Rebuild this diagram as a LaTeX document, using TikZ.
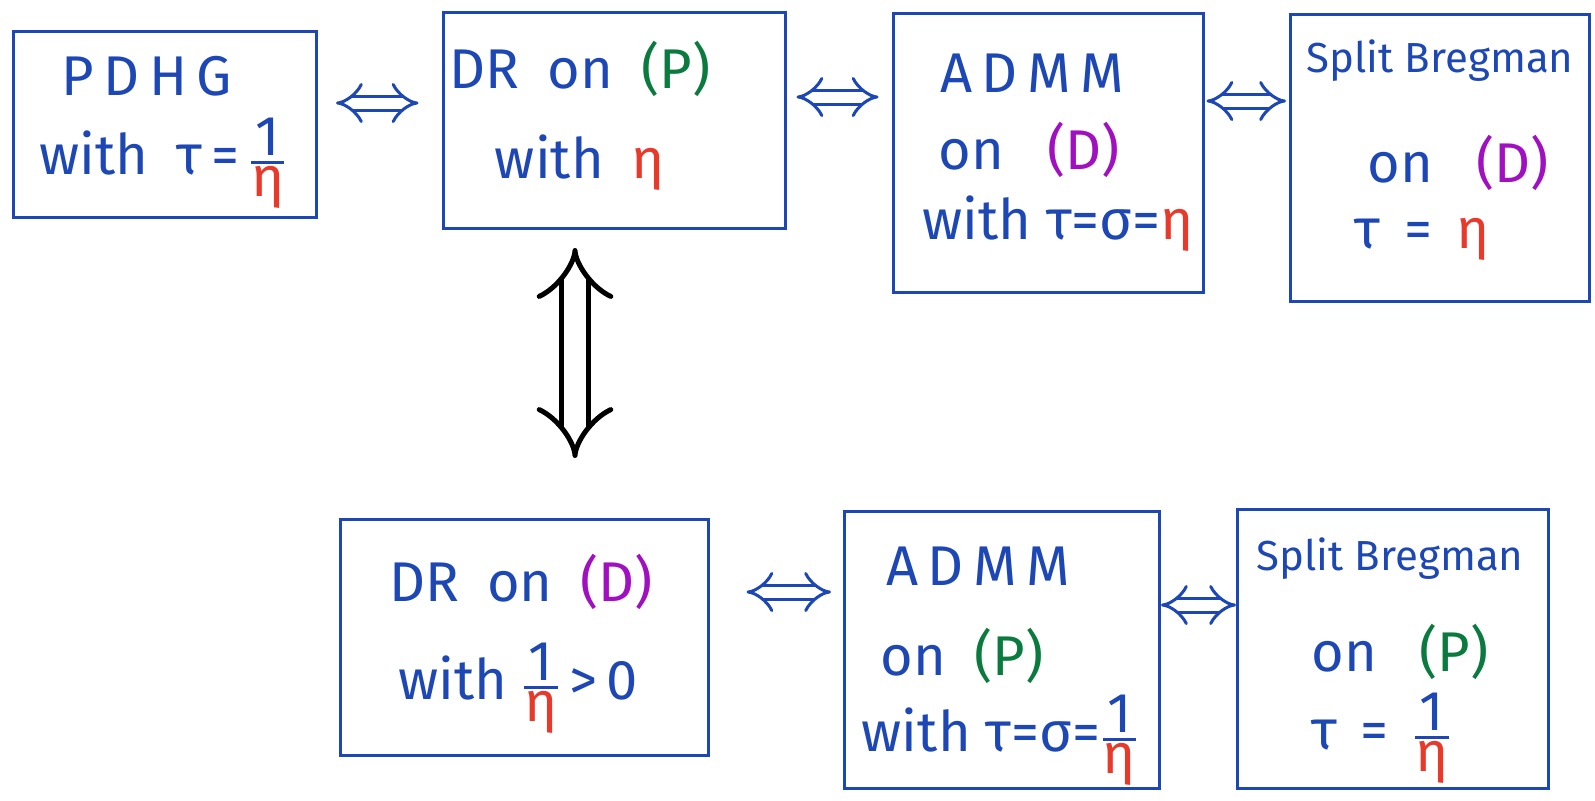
\documentclass[tikz,border=0pt]{standalone}
\usepackage{fontspec}
\setmainfont{Fira Sans}
\usepackage{amsmath}
\usetikzlibrary{arrows.meta}
\definecolor{pen}{HTML}{1C47B5}
\definecolor{pgreen}{HTML}{0B7A3E}
\definecolor{ppurple}{HTML}{A010C0}
\definecolor{pred}{HTML}{E8392A}
\newcommand{\hfr}[2]{$\genfrac{}{}{1.2pt}{}{\mbox{#1}}{\mbox{#2}}$}
\newcommand{\reta}{\textcolor{pred}{η}}
\newcommand{\Pp}{\textcolor{pgreen}{(P)}}
\newcommand{\Dd}{\textcolor{ppurple}{(D)}}
\begin{document}
\begin{tikzpicture}[x=0.5pt,y=-0.5pt,
  box/.style args={#1x#2}{draw=pen, line width=1.5pt, inner sep=0pt,
    minimum width=#1*0.5pt, minimum height=#2*0.5pt},
  txt/.style={text=pen, font=\fontsize{28}{32}\selectfont, inner sep=0pt},
  stxt/.style={text=pen, font=\fontsize{21}{25}\selectfont, inner sep=0pt},
  dbl/.style={draw=pen, line width=1.5pt, double, double distance=5.5pt, {Implies}-{Implies}},
  vdbl/.style={draw=black, line width=2.5pt, double, double distance=11pt, {Implies}-{Implies}}]
\useasboundingbox (0,0) rectangle (1595,800);
% boxes
\node[box=303x186] (b1) at (165,124) {};
\node[box=342x216] (b2) at (614,120) {};
\node[box=310x279] (b3) at (1048,153) {};
\node[box=299x287] (b4) at (1440,158) {};
\node[box=368x236] (b5) at (524,637) {};
\node[box=315x277] (b6) at (1002,650) {};
\node[box=311x279] (b7) at (1393,649) {};
% texts
\node[txt] (t1a) at (147,76) {P\,D\,H\,G};
\node[txt] (t1b) at (163,163) {with\enspace τ\,=\,\hfr{1}{\reta}};
\node[txt] (t2a) at (580,69) {DR\enspace on\enspace \Pp};
\node[txt] (t2b) at (580,163) {with\enspace \reta};
\node[txt] (t3a) at (1032,73) {A\,D\,M\,M};
\node[txt] (t3b) at (1029,150) {on\enspace\ \Dd};
\node[txt] (t3c) at (1058,224) {with τ=σ=\reta};
\node[stxt] (t4a) at (1440,61) {Split Bregman};
\node[txt] (t4b) at (1458,163) {on\enspace\ \Dd};
\node[txt] (t4c) at (1422,239) {τ\, =\, \reta};
\node[txt] (t5a) at (521,582) {DR\enspace on\enspace \Dd};
\node[txt] (t5b) at (518,688) {with \hfr{1}{\reta}\,>\,0};
\node[txt] (t6a) at (978,566) {A\,D\,M\,M};
\node[txt] (t6b) at (962,656) {on\enspace \Pp};
\node[txt] (t6c) at (1000,740) {with τ=σ=\hfr{1}{\reta}};
\node[stxt] (t7a) at (1390,559) {Split Bregman};
\node[txt] (t7b) at (1400,652) {on\enspace\ \Pp};
\node[txt] (t7c) at (1381,738) {τ\, =\, \hfr{1}{\reta}};
% arrow heights
\coordinate (y12) at (0,103);
\coordinate (y23) at (0,97);
\coordinate (y34) at (0,101);
\coordinate (y56) at (0,592);
\coordinate (y67) at (0,605);
\draw[dbl, shorten <=18pt*0.5, shorten >=23pt*0.5] (b1.east |- y12) -- (b2.west |- y12);
\draw[dbl, shorten <=10pt*0.5, shorten >=13pt*0.5] (b2.east |- y23) -- (b3.west |- y23);
\draw[dbl, shorten <=2pt*0.5, shorten >=3pt*0.5] (b3.east |- y34) -- (b4.west |- y34);
\draw[dbl, shorten <=37pt*0.5, shorten >=12pt*0.5] (b5.east |- y56) -- (b6.west |- y56);
\draw[dbl] (b6.east |- y67) -- (b7.west |- y67);
% vertical arrow
\coordinate (v1) at (575,248);
\coordinate (v2) at (575,458);
\draw[vdbl] (v1) -- (v2);
\end{tikzpicture}
\end{document}
